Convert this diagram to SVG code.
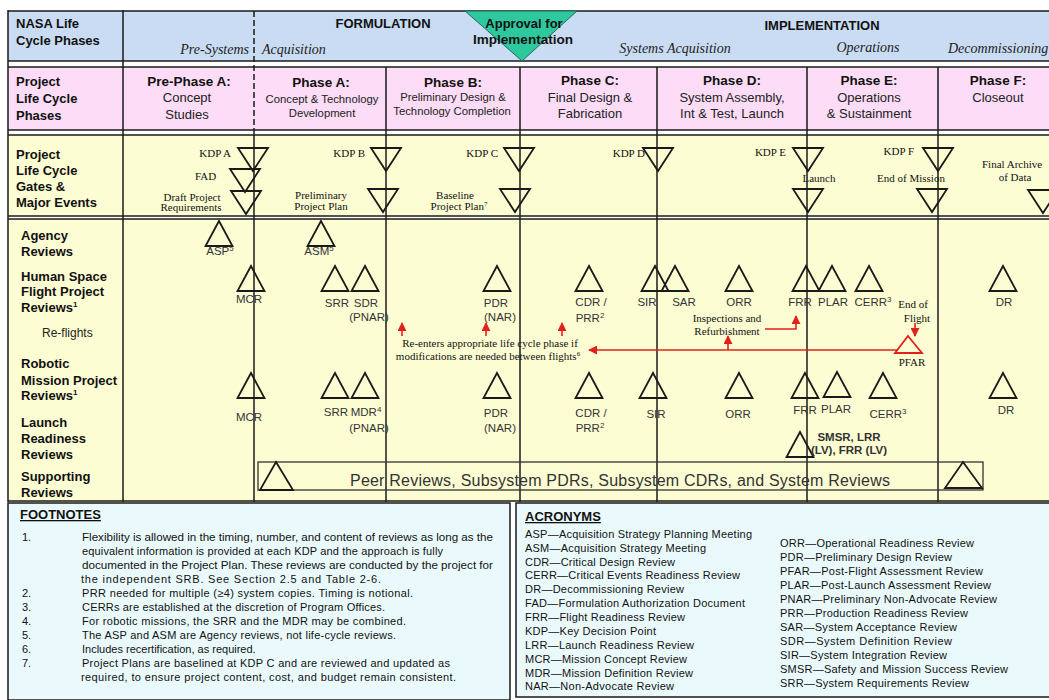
<svg xmlns="http://www.w3.org/2000/svg" width="1049" height="700" viewBox="0 0 1049 700">
<style>
.lh{font-family:"Liberation Sans",Arial,sans-serif;font-weight:bold;font-size:13px;fill:#111}
.ph{font-family:"Liberation Sans",Arial,sans-serif;font-weight:bold;font-size:13.5px;fill:#111;text-anchor:middle}
.pd{font-family:"Liberation Sans",Arial,sans-serif;font-size:13px;fill:#222;text-anchor:middle}
.pds{font-size:11.3px}
.it{font-family:"Liberation Serif","Times New Roman",serif;font-style:italic;font-size:14px;fill:#222}
.sf{font-family:"Liberation Serif","Times New Roman",serif;font-size:11px;fill:#111}
.m{text-anchor:middle}
.e{text-anchor:end}
.rv{font-family:"Liberation Sans",Arial,sans-serif;font-size:11.5px;fill:#333;text-anchor:middle}
.tri{fill:none;stroke:#1a1a1a;stroke-width:1.8}
.ln{stroke:#1a1a1a;stroke-width:1.5;fill:none}
.red{stroke:#e3201b;stroke-width:1.6;fill:none}
.fn{font-family:"Liberation Sans",Arial,sans-serif;font-size:11px;fill:#111}
</style>
<defs>
<path id="up" d="M0,0 L13.5,25 L-13.5,25 Z"/>
<path id="dn" d="M-15,0 L15,0 L0,23 Z"/>
<marker id="ra" viewBox="0 0 10 10" refX="9" refY="5" markerWidth="9" markerHeight="9" markerUnits="userSpaceOnUse" orient="auto">
<path d="M0,0 L10,5 L0,10 Z" fill="#e3201b"/>
</marker>
</defs>

<g id="backgrounds">
<rect x="8" y="11" width="1041" height="50" fill="#c9dcf3"/>
<rect x="8" y="61" width="1041" height="6" fill="#ffffff"/>
<rect x="8" y="67" width="1041" height="63" fill="#fcdcf6"/>
<rect x="8" y="130" width="1041" height="5" fill="#ffffff"/>
<rect x="8" y="135" width="1041" height="367" fill="#fdfdd3"/>
<rect x="8" y="216" width="1041" height="3" fill="#ffffff"/>
<rect x="8" y="503" width="502" height="197" fill="#eafafc" stroke="#1a1a1a" stroke-width="1.5"/>
<rect x="516" y="503" width="540" height="194" fill="#eafafc" stroke="#1a1a1a" stroke-width="1.5"/>
</g>

<g id="grid">
<line class="ln" x1="8" y1="11" x2="1049" y2="11" stroke-width="2.5"/>
<line class="ln" x1="8" y1="61" x2="1049" y2="61"/>
<line class="ln" x1="8" y1="67" x2="1049" y2="67"/>
<line class="ln" x1="8" y1="130" x2="1049" y2="130"/>
<line class="ln" x1="8" y1="135" x2="1049" y2="135"/>
<line class="ln" x1="8" y1="216" x2="1049" y2="216"/>
<line class="ln" x1="8" y1="219" x2="1049" y2="219"/>
<line class="ln" x1="8" y1="501" x2="1049" y2="501" stroke-width="2.5"/>
<line class="ln" x1="8" y1="10" x2="8" y2="502" stroke-width="3"/>
<line class="ln" x1="123" y1="10" x2="123" y2="502" stroke-width="3"/>
<line class="ln" x1="254" y1="11" x2="254" y2="130" stroke-width="2" stroke-dasharray="6,3"/>
<line class="ln" x1="254" y1="130" x2="254" y2="502"/>
<line class="ln" x1="386" y1="67" x2="386" y2="502"/>
<line class="ln" x1="520" y1="67" x2="520" y2="502"/>
<line class="ln" x1="657" y1="67" x2="657" y2="502"/>
<line class="ln" x1="807" y1="67" x2="807" y2="502"/>
<line class="ln" x1="938" y1="67" x2="938" y2="502"/>
</g>

<g id="header">
<text class="lh" x="16" y="28">NASA Life</text>
<text class="lh" x="16" y="45">Cycle Phases</text>
<text class="lh m" x="383" y="28">FORMULATION</text>
<text class="lh m" x="822" y="30">IMPLEMENTATION</text>
<text class="it e" x="249" y="54">Pre-Systems</text>
<text class="it" x="262" y="54">Acquisition</text>
<text class="it m" x="675" y="53">Systems Acquisition</text>
<text class="it m" x="868" y="52">Operations</text>
<text class="it" x="948" y="53" font-size="12.3">Decommissioning</text>
</g>

<g id="approval">
<polygon points="465,11 577,11 522,61" fill="#2fc79e" stroke="#1f6f58" stroke-width="1"/>
<text class="lh m" x="524" y="28" font-size="12.5">Approval for</text>
<text class="lh m" x="523" y="44" textLength="100" lengthAdjust="spacingAndGlyphs">Implementation</text>
</g>

<g id="phases">
<text class="lh" x="16" y="86">Project</text>
<text class="lh" x="16" y="103">Life Cycle</text>
<text class="lh" x="16" y="120">Phases</text>
<g id="pre-phase-a"><text class="ph" x="189" y="86">Pre-Phase A:</text><text class="pd" x="187" y="102">Concept</text><text class="pd" x="187" y="119">Studies</text></g>
<g id="phase-a"><text class="ph" x="321" y="87">Phase A:</text><text class="pd pds" x="322" y="103">Concept &amp; Technology</text><text class="pd pds" x="322" y="117">Development</text></g>
<g id="phase-b"><text class="ph" x="453" y="87">Phase B:</text><text class="pd pds" x="453" y="101">Preliminary Design &amp;</text><text class="pd pds" x="452" y="115">Technology Completion</text></g>
<g id="phase-c"><text class="ph" x="590" y="85">Phase C:</text><text class="pd" x="590" y="102">Final Design &amp;</text><text class="pd" x="590" y="118">Fabrication</text></g>
<g id="phase-d"><text class="ph" x="732" y="85">Phase D:</text><text class="pd" x="732" y="102">System Assembly,</text><text class="pd" x="732" y="118">Int &amp; Test, Launch</text></g>
<g id="phase-e"><text class="ph" x="869" y="85">Phase E:</text><text class="pd" x="869" y="102">Operations</text><text class="pd" x="869" y="118">&amp; Sustainment</text></g>
<g id="phase-f"><text class="ph" x="998" y="85">Phase F:</text><text class="pd" x="998" y="102">Closeout</text></g>
</g>

<g id="gates">
<text class="lh" x="16" y="159">Project</text>
<text class="lh" x="16" y="175">Life Cycle</text>
<text class="lh" x="16" y="191">Gates &amp;</text>
<text class="lh" x="16" y="207">Major Events</text>
<g id="kdp-a"><use href="#dn" class="tri" x="253" y="148"/><text class="sf e" x="231" y="157">KDP A</text></g>
<g id="fad"><use href="#dn" class="tri" x="245" y="169"/><text class="sf" x="195" y="180">FAD</text></g>
<g id="draft-req"><use href="#dn" class="tri" x="246" y="191"/><text class="sf m" x="192" y="201">Draft Project</text><text class="sf m" x="191" y="211">Requirements</text></g>
<g id="kdp-b"><use href="#dn" class="tri" x="386" y="148"/><text class="sf e" x="365" y="157">KDP B</text></g>
<g id="prelim-plan"><use href="#dn" class="tri" x="383" y="189"/><text class="sf m" x="321" y="199">Preliminary</text><text class="sf m" x="321" y="210">Project Plan</text></g>
<g id="kdp-c"><use href="#dn" class="tri" x="519" y="148"/><text class="sf e" x="498" y="157">KDP C</text></g>
<g id="baseline-plan"><use href="#dn" class="tri" x="515" y="189"/><text class="sf m" x="455" y="199">Baseline</text><text class="sf m" x="459" y="210">Project Plan<tspan dy="-4" font-size="7">7</tspan></text></g>
<g id="kdp-d"><use href="#dn" class="tri" x="658" y="148"/><text class="sf e" x="645" y="157">KDP D</text></g>
<g id="kdp-e"><use href="#dn" class="tri" x="808" y="148"/><text class="sf e" x="786" y="156">KDP E</text></g>
<g id="launch"><use href="#dn" class="tri" x="808" y="189"/><text class="sf m" x="819" y="182">Launch</text></g>
<g id="kdp-f"><use href="#dn" class="tri" x="938" y="148"/><text class="sf e" x="914" y="155">KDP F</text></g>
<g id="end-of-mission"><use href="#dn" class="tri" x="932" y="189"/><text class="sf m" x="911" y="182">End of Mission</text></g>
<g id="final-archive"><use href="#dn" class="tri" x="1043" y="190"/><text class="sf" x="982" y="168">Final Archive</text><text class="sf m" x="1015" y="181">of Data</text></g>
</g>

<g id="row-labels">
<text class="lh" x="21" y="240">Agency</text>
<text class="lh" x="21" y="256">Reviews</text>
<text class="lh" x="21" y="281">Human Space</text>
<text class="lh" x="21" y="296">Flight Project</text>
<text class="lh" x="21" y="312">Reviews<tspan dy="-5" font-size="8">1</tspan></text>
<text x="42" y="337" font-family="Liberation Sans, Arial, sans-serif" font-size="12" fill="#222">Re-flights</text>
<text class="lh" x="21" y="368">Robotic</text>
<text class="lh" x="21" y="385">Mission Project</text>
<text class="lh" x="21" y="400">Reviews<tspan dy="-5" font-size="8">1</tspan></text>
<text class="lh" x="21" y="427">Launch</text>
<text class="lh" x="21" y="443">Readiness</text>
<text class="lh" x="21" y="459">Reviews</text>
<text class="lh" x="21" y="481">Supporting</text>
<text class="lh" x="21" y="497">Reviews</text>
</g>

<g id="agency">
<g id="asp"><use href="#up" class="tri" x="219" y="221"/><text class="rv" x="220" y="255">ASP<tspan dy="-4" font-size="8">5</tspan></text></g>
<g id="asm"><use href="#up" class="tri" x="321" y="221"/><text class="rv" x="319" y="255">ASM<tspan dy="-4" font-size="8">5</tspan></text></g>
</g>

<g id="hsf">
<g id="hsf-mcr"><use href="#up" class="tri" x="251" y="266"/><text class="rv" x="249" y="303">MCR</text></g>
<g id="hsf-srr"><use href="#up" class="tri" x="335" y="266"/><text class="rv" x="337" y="307">SRR</text></g>
<g id="hsf-sdr"><use href="#up" class="tri" x="365" y="266"/><text class="rv" x="366" y="307">SDR</text><text class="rv" x="369" y="321">(PNAR)</text></g>
<g id="hsf-pdr"><use href="#up" class="tri" x="497" y="266"/><text class="rv" x="496" y="307">PDR</text><text class="rv" x="500" y="321">(NAR)</text></g>
<g id="hsf-cdr"><use href="#up" class="tri" x="589" y="266"/><text class="rv" x="591" y="306">CDR /</text><text class="rv" x="590" y="322">PRR<tspan dy="-4" font-size="8">2</tspan></text></g>
<g id="hsf-sir"><use href="#up" class="tri" x="655" y="266"/><text class="rv" x="647" y="306">SIR</text></g>
<g id="hsf-sar"><use href="#up" class="tri" x="675" y="266"/><text class="rv" x="684" y="306">SAR</text></g>
<g id="hsf-orr"><use href="#up" class="tri" x="739" y="266"/><text class="rv" x="739" y="306">ORR</text></g>
<g id="hsf-frr"><use href="#up" class="tri" x="806" y="266"/><text class="rv" x="800" y="306">FRR</text></g>
<g id="hsf-plar"><use href="#up" class="tri" x="832" y="266"/><text class="rv" x="833" y="306">PLAR</text></g>
<g id="hsf-cerr"><use href="#up" class="tri" x="869" y="266"/><text class="rv" x="873" y="306">CERR<tspan dy="-4" font-size="8">3</tspan></text></g>
<g id="hsf-dr"><use href="#up" class="tri" x="1003" y="266"/><text class="rv" x="1004" y="306">DR</text></g>
</g>

<g id="reflights">
<text class="sf m" x="490" y="347">Re-enters appropriate life cycle phase if</text>
<text class="sf m" x="488" y="360">modifications are needed between flights<tspan dy="-4" font-size="7">6</tspan></text>
<text class="sf m" x="727" y="322">Inspections and</text>
<text class="sf m" x="727" y="335">Refurbishment</text>
<text class="sf m" x="913" y="308">End of</text>
<text class="sf m" x="917" y="322">Flight</text>
<g id="pfar"><path d="M908,336 L922,353 L895,353 Z" fill="none" stroke="#e3201b" stroke-width="1.8"/><text class="sf m" x="912" y="366" fill="#3a2a2a">PFAR</text></g>
</g>

<g id="robotic">
<g id="rob-mcr"><use href="#up" class="tri" x="251" y="373"/><text class="rv" x="249" y="421">MCR</text></g>
<g id="rob-srr"><use href="#up" class="tri" x="335" y="373"/><text class="rv" x="336" y="416">SRR</text></g>
<g id="rob-mdr"><use href="#up" class="tri" x="365" y="373"/><text class="rv" x="366" y="416">MDR<tspan dy="-4" font-size="8">4</tspan></text><text class="rv" x="369" y="432">(PNAR)</text></g>
<g id="rob-pdr"><use href="#up" class="tri" x="497" y="373"/><text class="rv" x="496" y="417">PDR</text><text class="rv" x="500" y="432">(NAR)</text></g>
<g id="rob-cdr"><use href="#up" class="tri" x="589" y="373"/><text class="rv" x="591" y="417">CDR /</text><text class="rv" x="590" y="432">PRR<tspan dy="-4" font-size="8">2</tspan></text></g>
<g id="rob-sir"><use href="#up" class="tri" x="653" y="373"/><text class="rv" x="656" y="418">SIR</text></g>
<g id="rob-orr"><use href="#up" class="tri" x="739" y="373"/><text class="rv" x="738" y="418">ORR</text></g>
<g id="rob-frr"><use href="#up" class="tri" x="805" y="373"/><text class="rv" x="805" y="414">FRR</text></g>
<g id="rob-plar"><use href="#up" class="tri" x="837" y="372"/><text class="rv" x="836" y="413">PLAR</text></g>
<g id="rob-cerr"><use href="#up" class="tri" x="883" y="373"/><text class="rv" x="888" y="418">CERR<tspan dy="-4" font-size="8">3</tspan></text></g>
<g id="rob-dr"><use href="#up" class="tri" x="1003" y="373"/><text class="rv" x="1006" y="414">DR</text></g>
</g>

<g id="launch-readiness">
<use href="#up" class="tri" x="800" y="432"/>
<text class="rv" x="849" y="441" font-size="10" font-weight="bold">SMSR, LRR</text>
<text class="rv" x="849" y="454" font-size="10" font-weight="bold">(LV), FRR (LV)</text>
</g>

<g id="supporting">
<rect x="258" y="462" width="725" height="28" fill="none" stroke="#333" stroke-width="1.3"/>
<path d="M276,462 L293,490 L260,490 Z" class="tri"/>
<path d="M963,462 L982,488 L945,488 Z" class="tri"/>
<text x="350" y="486" font-family="Liberation Sans, Arial, sans-serif" font-size="16" fill="#333" textLength="540" lengthAdjust="spacing">Peer Reviews, Subsystem PDRs, Subsystem CDRs, and System Reviews</text>
</g>

<g id="connectors">
<line class="red" x1="402" y1="336" x2="402" y2="323" marker-end="url(#ra)"/>
<line class="red" x1="486" y1="336" x2="486" y2="323" marker-end="url(#ra)"/>
<line class="red" x1="562" y1="336" x2="562" y2="323" marker-end="url(#ra)"/>
<line class="red" x1="897" y1="350" x2="589" y2="350" marker-end="url(#ra)"/>
<line class="red" x1="728" y1="350" x2="728" y2="336" marker-end="url(#ra)"/>
<path class="red" d="M765,329 H796 V316" marker-end="url(#ra)"/>
<line class="red" x1="915" y1="323" x2="915" y2="336" marker-end="url(#ra)"/>
</g>

<g id="footnotes">
<text class="lh" x="20" y="519" text-decoration="underline">FOOTNOTES</text>
<text class="fn" x="22" y="541">1.</text>
<text class="fn" x="82" y="541" textLength="411" lengthAdjust="spacingAndGlyphs">Flexibility is allowed in the timing, number, and content of reviews as long as the</text>
<text class="fn" x="82" y="555" textLength="361" lengthAdjust="spacing">equivalent information is provided at each KDP and the approach is fully</text>
<text class="fn" x="82" y="569" textLength="411" lengthAdjust="spacingAndGlyphs">documented in the Project Plan. These reviews are conducted by the project for</text>
<text class="fn" x="81" y="583" textLength="300" lengthAdjust="spacing">the independent SRB. See Section 2.5 and Table 2-6.</text>
<text class="fn" x="22" y="597">2.</text>
<text class="fn" x="82" y="597" textLength="331" lengthAdjust="spacing">PRR needed for multiple (≥4) system copies.  Timing is notional.</text>
<text class="fn" x="22" y="611">3.</text>
<text class="fn" x="82" y="611" textLength="303" lengthAdjust="spacing">CERRs are established at the discretion of Program Offices.</text>
<text class="fn" x="22" y="625">4.</text>
<text class="fn" x="82" y="625" textLength="324" lengthAdjust="spacing">For robotic missions, the SRR and the MDR may be combined.</text>
<text class="fn" x="22" y="639">5.</text>
<text class="fn" x="82" y="639" textLength="314" lengthAdjust="spacing">The ASP and ASM are Agency reviews, not life-cycle reviews.</text>
<text class="fn" x="22" y="653">6.</text>
<text class="fn" x="82" y="653">Includes recertification, as required.</text>
<text class="fn" x="22" y="667">7.</text>
<text class="fn" x="82" y="667" textLength="368" lengthAdjust="spacing">Project Plans are baselined at KDP C and are reviewed and updated as</text>
<text class="fn" x="81" y="681" textLength="375" lengthAdjust="spacing">required, to ensure project content, cost, and budget remain consistent.</text>
</g>

<g id="acronyms">
<text class="lh" x="525" y="521" text-decoration="underline">ACRONYMS</text>
<text class="fn" x="525" y="538" textLength="227" lengthAdjust="spacing">ASP—Acquisition Strategy Planning Meeting</text>
<text class="fn" x="525" y="552" textLength="181" lengthAdjust="spacing">ASM—Acquisition Strategy Meeting</text>
<text class="fn" x="525" y="566" textLength="150" lengthAdjust="spacing">CDR—Critical Design Review</text>
<text class="fn" x="525" y="579" textLength="215" lengthAdjust="spacing">CERR—Critical Events Readiness Review</text>
<text class="fn" x="525" y="593" textLength="159" lengthAdjust="spacing">DR—Decommissioning Review</text>
<text class="fn" x="525" y="607" textLength="220" lengthAdjust="spacing">FAD—Formulation Authorization Document</text>
<text class="fn" x="525" y="621" textLength="160" lengthAdjust="spacing">FRR—Flight Readiness Review</text>
<text class="fn" x="525" y="635" textLength="131" lengthAdjust="spacing">KDP—Key Decision Point</text>
<text class="fn" x="525" y="649" textLength="169" lengthAdjust="spacing">LRR—Launch Readiness Review</text>
<text class="fn" x="525" y="663" textLength="162" lengthAdjust="spacing">MCR—Mission Concept Review</text>
<text class="fn" x="525" y="677" textLength="168" lengthAdjust="spacing">MDR—Mission Definition Review</text>
<text class="fn" x="525" y="690" textLength="149" lengthAdjust="spacing">NAR—Non-Advocate Review</text>
<text class="fn" x="780" y="547" textLength="194" lengthAdjust="spacing">ORR—Operational Readiness Review</text>
<text class="fn" x="780" y="561" textLength="172" lengthAdjust="spacing">PDR—Preliminary Design Review</text>
<text class="fn" x="780" y="575" textLength="203" lengthAdjust="spacing">PFAR—Post-Flight Assessment Review</text>
<text class="fn" x="780" y="589" textLength="211" lengthAdjust="spacing">PLAR—Post-Launch Assessment Review</text>
<text class="fn" x="780" y="603" textLength="217" lengthAdjust="spacing">PNAR—Preliminary Non-Advocate Review</text>
<text class="fn" x="780" y="617" textLength="188" lengthAdjust="spacing">PRR—Production Readiness Review</text>
<text class="fn" x="780" y="631" textLength="177" lengthAdjust="spacing">SAR—System Acceptance Review</text>
<text class="fn" x="780" y="645" textLength="172" lengthAdjust="spacing">SDR—System Definition Review</text>
<text class="fn" x="780" y="659" textLength="167" lengthAdjust="spacing">SIR—System Integration Review</text>
<text class="fn" x="780" y="673" textLength="228" lengthAdjust="spacing">SMSR—Safety and Mission Success Review</text>
<text class="fn" x="780" y="687" textLength="189" lengthAdjust="spacing">SRR—System Requirements Review</text>
</g>
</svg>
